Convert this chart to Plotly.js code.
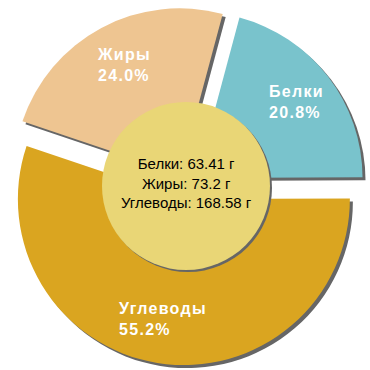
<!DOCTYPE html>
<html>
<head>
<meta charset="utf-8">
<script src="https://cdn.plot.ly/plotly-3.0.1.min.js"></script>
<style>
html,body{margin:0;padding:0;background:#fff;}
#chart{width:370px;height:370px;}
.annotation[data-index="0"] text, .annotation[data-index="1"] text, .annotation[data-index="2"] text { letter-spacing: 1.3px; }
</style>
</head>
<body>
<div id="chart"></div>
<script>
var labels = ["Белки", "Углеводы", "Жиры"];
var grams = [63.41, 168.58, 73.2];
var colors = ["#79C3CC", "#DAA520", "#EEC591"];
var centerOrder = ["Белки", "Жиры", "Углеводы"];

var W = 370, H = 370;
var cx = 186, cy = 186, R = 166, pullFrac = 0.08;
var half = R * (1 + pullFrac);
var sh = 3;

function dom(dx, dy) {
  return {
    x: [(cx - half + dx) / W, (cx + half + dx) / W],
    y: [(H - cy - half - dy) / H, (H - cy + half - dy) / H]
  };
}

var common = {
  type: "pie",
  labels: labels,
  values: grams,
  sort: false,
  direction: "clockwise",
  rotation: 15,
  pull: labels.map(function(){ return pullFrac; }),
  textinfo: "none",
  hoverinfo: "skip",
  showlegend: false
};

var shadow = Object.assign({}, common, {
  domain: dom(sh, sh),
  marker: { colors: labels.map(function(){ return "#666666"; }), line: { width: 0 } }
});
var main = Object.assign({}, common, {
  domain: dom(0, 0),
  marker: { colors: colors, line: { width: 0 } }
});

var total = grams.reduce(function(a, b){ return a + b; }, 0);
function pct(i) { return (grams[i] / total * 100).toFixed(1) + "%"; }

var labelPos = { "Белки": [267, 102.5], "Жиры": [95, 64.5], "Углеводы": [117, 319] };
var annotations = labels.map(function(l, i) {
  return {
    xref: "paper", yref: "paper",
    x: labelPos[l][0] / W, y: 1 - labelPos[l][1] / H,
    xanchor: "left", yanchor: "middle", align: "left",
    showarrow: false,
    text: "<b>" + l + "<br>" + pct(i) + "</b>",
    font: { family: "Liberation Sans, Arial, sans-serif", size: 16, color: "#ffffff" }
  };
});
var centerText = centerOrder.map(function(l) {
  return l + ": " + grams[labels.indexOf(l)] + " г";
}).join("<br>");
annotations.push({
  xref: "paper", yref: "paper",
  x: 186 / W, y: 1 - 183 / H,
  xanchor: "center", yanchor: "middle", align: "center",
  showarrow: false,
  text: centerText,
  font: { family: "Liberation Sans, Arial, sans-serif", size: 15, color: "#000000" }
});

var cr = 84;
function circ(dx, dy, color) {
  return {
    type: "circle", xref: "paper", yref: "paper", layer: "above",
    x0: (cx - cr + dx) / W, x1: (cx + cr + dx) / W,
    y0: 1 - (cy + cr + dy) / H, y1: 1 - (cy - cr + dy) / H,
    fillcolor: color, line: { width: 0 }
  };
}

var layout = {
  width: W, height: H,
  margin: { l: 0, r: 0, t: 0, b: 0 },
  paper_bgcolor: "#ffffff",
  showlegend: false,
  shapes: [circ(2, 2, "#666666"), circ(0, 0, "#E9D676")],
  annotations: annotations
};

Plotly.newPlot("chart", [shadow, main], layout, { staticPlot: true });
</script>
</body>
</html>
